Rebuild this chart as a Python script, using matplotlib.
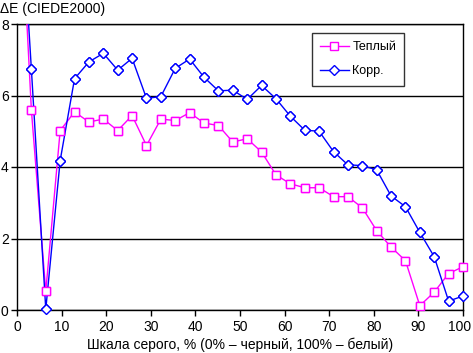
import numpy as np
import matplotlib
matplotlib.use("Agg")
import matplotlib.pyplot as plt
from matplotlib.transforms import ScaledTranslation

plt.rcParams["font.family"] = ["Liberation Sans", "DejaVu Sans"]

# --- data (32 grey steps, 0..100 %) ---
gray_pct = np.arange(32) * 100.0 / 31
warm = [13.4, 5.59, 0.52, 5.02, 5.54, 5.26, 5.34, 5.02, 5.44, 4.60,
        5.34, 5.30, 5.52, 5.23, 5.16, 4.70, 4.79, 4.42, 3.78, 3.53,
        3.42, 3.42, 3.17, 3.17, 2.86, 2.22, 1.76, 1.38, 0.12, 0.50,
        1.02, 1.21]
corr = [13.3, 6.73, 0.02, 4.18, 6.47, 6.94, 7.18, 6.71, 7.04, 5.92,
        5.97, 6.76, 7.02, 6.51, 6.13, 6.15, 5.89, 6.28, 5.91, 5.42,
        5.03, 5.00, 4.43, 4.06, 4.04, 3.92, 3.19, 2.89, 2.17, 1.49,
        0.25, 0.39]

fig = plt.figure(figsize=(4.73, 3.53), dpi=100)
ax = fig.add_axes([17 / 473, 43 / 353, 446 / 473, 286 / 353])

series = [
    (warm, "#FF00FF", "s", 6, "Теплый"),
    (corr, "#0000FF", "D", 5, "Корр."),
]
for i, (vals, col, mk, ms, lab) in enumerate(series):
    # clipped line (first point is far above the axis)
    ax.plot(gray_pct, vals, color=col, lw=1.0, marker=mk, ms=ms,
            mfc="white", mec=col, mew=1.0, markevery=list(range(1, 32)),
            label=lab, zorder=3 + i)
    # markers drawn unclipped so the edge ones are whole
    ax.plot(gray_pct[1:], vals[1:], ls="none", marker=mk, ms=ms,
            mfc="white", mec=col, mew=1.0, clip_on=False, zorder=5 + i)

ax.set_xlim(0, 100)
ax.set_ylim(0, 8)
ax.set_xticks(range(0, 101, 10))
ax.set_yticks(range(0, 9, 2))
ax.grid(True, axis="y", color="black", lw=1.0)
ax.set_axisbelow(True)
for s in ax.spines.values():
    s.set_color("black")
    s.set_linewidth(1.0)
ax.tick_params(direction="out", length=4, width=1.0, labelsize=10, colors="black")
ax.tick_params(axis="y", pad=2)

# nudge the last x label a little so it stays inside the canvas
last = ax.get_xticklabels()[-1]
last.set_transform(last.get_transform() + ScaledTranslation(-2.5 / 72, 0, fig.dpi_scale_trans))

ax.set_xlabel("Шкала серого, % (0% – черный, 100% – белый)", fontsize=10, labelpad=2)
fig.text(0.0, 0.995, "ΔE (CIEDE2000)", fontsize=10, ha="left", va="top")

leg = ax.legend(loc="upper left", bbox_to_anchor=(0.661, 0.969), borderaxespad=0,
                fontsize=9, frameon=True, fancybox=False, edgecolor="black",
                handlelength=2.3, handletextpad=0.3, borderpad=0.65,
                labelspacing=1.0)
leg.get_frame().set_linewidth(1.0)

fig.savefig("out.png", dpi=100)
